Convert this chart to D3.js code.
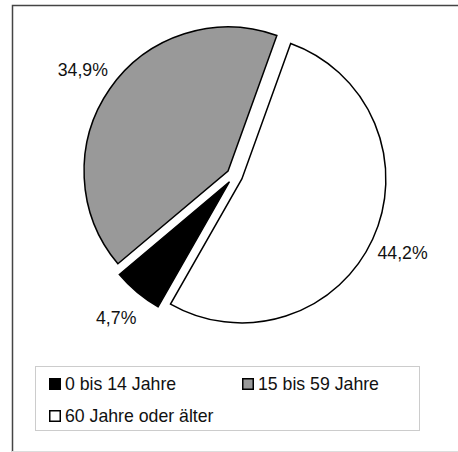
<!DOCTYPE html>
<html><head><meta charset="utf-8">
<script src="https://cdn.jsdelivr.net/npm/d3@7"></script>
<style>html,body{margin:0;padding:0;background:#fff}svg{display:block}</style>
</head><body><svg id="c" width="458" height="452"></svg>
<script>
const categories = ["0 bis 14 Jahre", "15 bis 59 Jahre", "60 Jahre oder älter"];
const values = [4.7, 34.9, 44.2];
const labels = ["4,7%", "34,9%", "44,2%"];
const colors = ["#000000", "#999999", "#ffffff"];

const svg = d3.select("#c");
const font = "'Liberation Sans', Arial, sans-serif";
const fs = 17.7;

// frame
svg.append("path").attr("d", "M12.5,452 L12.5,5.5 L458,5.5")
  .attr("fill", "none").attr("stroke", "#444").attr("stroke-width", 1.5);
svg.append("line").attr("x1", 12).attr("x2", 458).attr("y1", 451.5).attr("y2", 451.5)
  .attr("stroke", "#ddd").attr("stroke-width", 1);

const cx = 234.6, cy = 175.6, r = 144, explode = 8;
const start = 209.7 * Math.PI / 180;
const pie = d3.pie().sort(null).value(d => d).startAngle(start).endAngle(start + 2 * Math.PI);
const arcs = pie(values);
const arc = d3.arc().innerRadius(0).outerRadius(r);
const labelArc = d3.arc().innerRadius(185).outerRadius(185);

const g = svg.append("g").attr("transform", `translate(${cx},${cy})`);
g.selectAll("path.slice").data(arcs).enter().append("path")
  .attr("class", "slice")
  .attr("d", arc)
  .attr("transform", d => {
    const m = (d.startAngle + d.endAngle) / 2;
    return `translate(${explode * Math.sin(m)},${-explode * Math.cos(m)})`;
  })
  .attr("fill", (d, i) => colors[i])
  .attr("stroke", "#000").attr("stroke-width", 1.5).attr("stroke-linejoin", "miter");

g.selectAll("text.lbl").data(arcs).enter().append("text")
  .attr("class", "lbl")
  .attr("x", d => labelArc.centroid(d)[0])
  .attr("y", d => labelArc.centroid(d)[1])
  .attr("text-anchor", "middle").attr("dy", "0.35em")
  .attr("font-family", font).attr("font-size", fs).attr("fill", "#111")
  .text((d, i) => labels[i]);

// legend
svg.append("rect").attr("x", 35.5).attr("y", 366.5).attr("width", 384).attr("height", 64)
  .attr("fill", "#fff").attr("stroke", "#ccc").attr("stroke-width", 1);
const legPos = [[49, 378], [242, 378], [49, 410]];
const lg = svg.selectAll("g.leg").data(categories).enter().append("g")
  .attr("transform", (d, i) => `translate(${legPos[i][0]},${legPos[i][1]})`);
lg.append("rect").attr("x", 0.75).attr("y", 0.75).attr("width", 10.5).attr("height", 10.5)
  .attr("fill", (d, i) => colors[i]).attr("stroke", "#000").attr("stroke-width", 1.5);
lg.append("text").attr("x", 16).attr("y", 11.8)
  .attr("font-family", font).attr("font-size", fs).attr("fill", "#111")
  .text(d => d);
</script></body></html>
